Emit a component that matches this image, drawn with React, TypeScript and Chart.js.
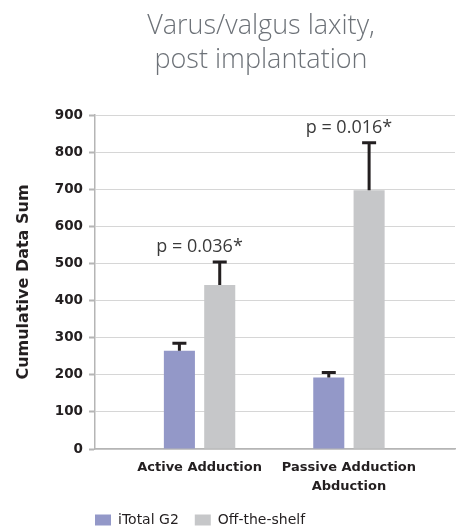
import React, { useEffect, useRef } from 'react';
import { Chart, registerables } from 'chart.js';

Chart.register(...registerables);

// ---- data ----
const categories: string[][] = [['Active Adduction'], ['Passive Adduction', 'Abduction']];
const categoryIndex = [0, 1];
const itotalValues = [265, 193];
const itotalErrors = [20, 13];
const offShelfValues = [442, 697];
const offShelfErrors = [62, 128];
const pValueLabels = ['p = 0.036*', 'p = 0.016*'];
const seriesNames = ['iTotal G2', 'Off-the-shelf'];
const yMin = 0;
const yMax = 900;
const yStep = 100;

const AXIS_FONT = 'DejaVu Sans';

const errorBarPlugin = {
  id: 'errorBars',
  afterDatasetsDraw(chart: any) {
    const ctx = chart.ctx;
    const yScale = chart.scales.y;
    chart.data.datasets.forEach((ds: any, di: number) => {
      const meta = chart.getDatasetMeta(di);
      meta.data.forEach((bar: any, i: number) => {
        const v = ds.data[i].y;
        const top = yScale.getPixelForValue(v + ds.errors[i]);
        ctx.save();
        ctx.strokeStyle = '#231f20';
        ctx.lineWidth = 3;
        ctx.beginPath();
        ctx.moveTo(bar.x, bar.y);
        ctx.lineTo(bar.x, top);
        ctx.moveTo(bar.x - 7, top);
        ctx.lineTo(bar.x + 7, top);
        ctx.stroke();
        ctx.restore();
      });
    });
  },
};

const pLabelPlugin = {
  id: 'pLabels',
  afterDatasetsDraw(chart: any) {
    const ctx = chart.ctx;
    const xScale = chart.scales.x;
    const yScale = chart.scales.y;
    categoryIndex.forEach((ci, i) => {
      let topVal = -Infinity;
      chart.data.datasets.forEach((ds: any) => {
        topVal = Math.max(topVal, ds.data[i].y + ds.errors[i]);
      });
      const x = xScale.getPixelForValue(ci);
      const y = yScale.getPixelForValue(topVal) - 10;
      ctx.save();
      ctx.fillStyle = '#3a3a3a';
      ctx.font = '18px "Open Sans"';
      ctx.textAlign = 'center';
      ctx.textBaseline = 'alphabetic';
      ctx.fillText(pValueLabels[i], x, y);
      ctx.restore();
    });
  },
};

const legendPlacement = {
  id: 'legendPlacement',
  afterLayout(chart: any) {
    const lg = chart.legend;
    if (!lg) return;
    const pad = lg.options.labels.padding;
    const dx = chart.chartArea.left - pad - lg.left;
    lg.left += dx;
    lg.right += dx;
    lg.top += 2;
    lg.bottom += 2;
  },
};

export default function App() {
  const ref = useRef<HTMLCanvasElement>(null);
  useEffect(() => {
    const chart = new Chart(ref.current as HTMLCanvasElement, {
      type: 'bar',
      data: {
        datasets: [
          {
            label: seriesNames[0],
            data: categoryIndex.map((x, i) => ({ x, y: itotalValues[i] })),
            errors: itotalErrors,
            backgroundColor: '#9398c8',
          } as any,
          {
            label: seriesNames[1],
            data: categoryIndex.map((x, i) => ({ x, y: offShelfValues[i] })),
            errors: offShelfErrors,
            backgroundColor: '#c6c7c9',
          } as any,
        ],
      },
      options: {
        responsive: false,
        animation: false,
        layout: { padding: { top: 115, right: 4, bottom: -6, left: 0 } },
        datasets: { bar: { categoryPercentage: 0.54, barPercentage: 0.77 } },
        scales: {
          x: {
            type: 'linear',
            min: -0.7,
            max: 1.71,
            offset: false,
            afterBuildTicks: (s: any) => {
              s.ticks = categoryIndex.map((v) => ({ value: v }));
            },
            afterFit: (s: any) => {
              s.height = 46;
            },
            grid: { display: false, drawTicks: false },
            border: { display: true, color: '#b5b5b5', width: 1.5 },
            ticks: {
              callback: (v: any) => categories[v] as any,
              maxRotation: 0,
              autoSkip: false,
              padding: 10,
              color: '#231f20',
              font: { family: AXIS_FONT, weight: 'bold', size: 13, lineHeight: 1.4 },
            },
          },
          y: {
            min: yMin,
            max: yMax,
            afterFit: (s: any) => {
              s.width = 95;
            },
            ticks: {
              stepSize: yStep,
              padding: 6,
              color: '#231f20',
              font: { family: AXIS_FONT, weight: 'bold', size: 13.5 },
            },
            grid: { color: '#d6d6d6', lineWidth: 1, tickColor: '#b5b5b5', tickWidth: 2, tickLength: 6 },
            border: { color: '#b5b5b5', width: 1.5 },
            title: {
              display: true,
              text: 'Cumulative Data Sum',
              color: '#231f20',
              font: { family: AXIS_FONT, weight: 'bold', size: 16 },
              padding: { top: 14, bottom: 0 },
            },
          },
        },
        plugins: {
          legend: {
            position: 'bottom',
            align: 'start',
            labels: {
              boxWidth: 16,
              boxHeight: 11,
              padding: 16,
              color: '#231f20',
              font: { family: 'DejaVu Sans', size: 14 },
            },
          },
          title: { display: false },
          tooltip: { enabled: false },
        },
      } as any,
      plugins: [errorBarPlugin, pLabelPlugin, legendPlacement],
    });
    return () => chart.destroy();
  }, []);

  return (
    <div style={{ position: 'absolute', left: 0, top: 0, width: 459, height: 529, background: '#ffffff' }}>
      <canvas ref={ref} width={459} height={529} style={{ position: 'absolute', left: 0, top: 0 }} />
      <div
        style={{
          position: 'absolute',
          left: 0,
          top: 7,
          width: 459,
          boxSizing: 'border-box',
          paddingLeft: 63,
          textAlign: 'center',
          fontFamily: '"Open Sans"',
          fontWeight: 300,
          fontSize: 27,
          lineHeight: '34px',
          color: '#6d7278',
        }}
      >
        Varus/valgus laxity,
        <br />
        post implantation
      </div>
    </div>
  );
}
